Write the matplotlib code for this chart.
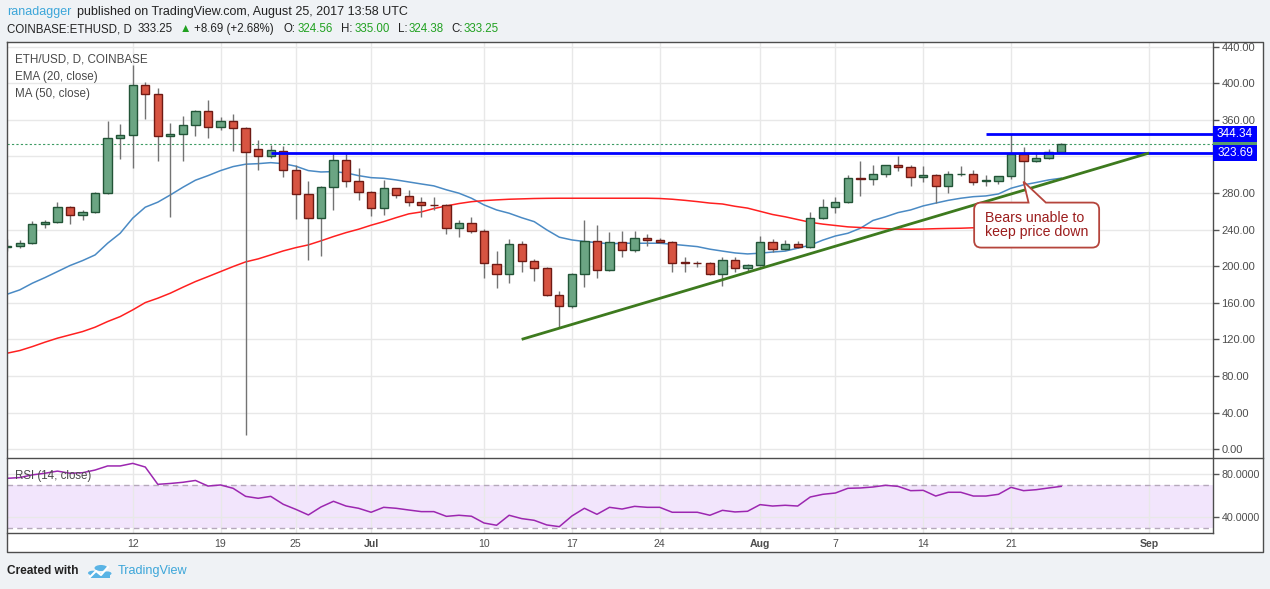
import numpy as np
import pandas as pd
import matplotlib
matplotlib.use("Agg")
import matplotlib.pyplot as plt
import matplotlib.dates as mdates
import matplotlib.transforms as mtransforms
from matplotlib.patches import Rectangle, PathPatch, Circle
from matplotlib.path import Path
from matplotlib.lines import Line2D

plt.rcParams['font.family'] = ['Liberation Sans', 'DejaVu Sans']

# ---- data (ETH/USD daily, Coinbase) ----
dates = pd.date_range('2017-06-02', '2017-08-25', freq='D')

opens = [221, 222, 225, 246, 248, 264.5, 256, 259, 280, 340,
         343, 398, 388, 342, 344, 354, 370, 352, 358.5, 351,
         328, 320, 326, 305, 279, 253, 287, 316, 293, 281,
         263.4, 285, 276.5, 270, 267, 266.7, 241.5, 247, 238.3, 202.2,
         191.3, 224, 205.5, 197.8, 168.3, 156.3, 191.3, 227.3, 195.6, 226.2,
         217.5, 230.6, 228.4, 226.2, 204.5, 203.5, 203.3, 191.3, 206.6, 197.8,
         201.1, 226.2, 218.6, 224, 220.8, 252.5, 264.5, 270, 296, 295,
         301, 310.4, 308.5, 297.3, 299.5, 287.4, 300.5, 300.5, 293, 293.6,
         298.4, 323, 314.8, 318.1, 324.56]
highs = [230, 229, 249.5, 250.3, 270, 266, 261.5, 281, 359, 355.5,
         420, 401, 394.5, 356.6, 364, 371, 382, 363, 366, 352.6,
         338, 333, 331.5, 311, 293, 288, 323.5, 323.5, 307, 282.6,
         294, 285.5, 283.4, 275.4, 275.4, 268, 250.6, 253.6, 240.4, 216.7,
         230, 227.7, 208, 199, 173, 192.3, 250.6, 245, 237.7, 239,
         239, 235.3, 231, 227.3, 210, 206, 205, 210, 210, 202.5,
         232.8, 229.8, 228.7, 228, 259.7, 273.6, 275.4, 300, 315, 310.7,
         311, 320.5, 310.7, 309.3, 300.5, 304.2, 310, 305, 299.5, 299,
         344.34, 330, 324.6, 328.2, 335.0]
lows = [217, 220, 224, 242, 247, 246.6, 251, 258, 279, 317.6,
        307, 361, 315, 254, 315, 342, 340.6, 348.6, 326, 15.6,
        305.6, 318, 297, 252, 207, 211.6, 261, 287, 272, 255,
        256.4, 274.4, 266, 254, 261.5, 235.6, 232.4, 236.7, 187, 176.6,
        182, 194, 184.3, 167, 133.3, 154.8, 177.7, 187.5, 195, 209.8,
        216, 222.5, 225.5, 194, 194, 199, 190, 178.8, 194, 194,
        200, 216, 218, 220, 220, 252, 258.6, 269, 277, 289,
        297.3, 304.5, 288, 291.8, 269, 280.4, 299, 289, 288, 290.3,
        295.7, 292.5, 314, 317, 324.38]
closes = [222.5, 225, 246, 248.4, 264.5, 256, 259, 280, 340, 343,
          398, 388, 342, 344, 354, 370, 352, 358.5, 351, 325,
          320, 327, 305, 279, 253, 287, 316, 293, 281, 263.4,
          285, 277.6, 270, 266.7, 266.4, 241.5, 247, 239, 203.3, 191.3,
          224, 205.5, 197.8, 168.3, 156.3, 191.3, 227.3, 195.6, 226.2, 217.5,
          230.6, 228.4, 226.2, 204, 203.5, 203.2, 191.3, 206.6, 197.8, 201.1,
          226.2, 218.6, 224, 220.8, 252.5, 264.5, 270, 296, 295, 301,
          310.4, 308.2, 297.3, 299.5, 287.4, 300.5, 301.2, 292.5, 294, 298.4,
          323, 314.8, 318.1, 324.6, 333.25]

ema20 = [169.4, 174.1, 181.4, 187.5, 194.1, 200.7, 206.1, 212.3, 225.1, 236.0,
         252.5, 264.5, 270.0, 277.9, 286.3, 294.0, 299.0, 304.5, 308.9, 311.5,
         312.1, 313.2, 312.1, 309.3, 304.5, 303.0, 303.4, 302.0, 299.0, 296.8,
         296.1, 294.3, 292.1, 289.9, 287.8, 283.5, 279.8, 274.3, 267.0, 261.5,
         257.9, 253.0, 248.7, 239.7, 231.7, 228.7, 227.0, 225.8, 224.4, 225.1,
         225.1, 225.1, 225.1, 224.0, 222.7, 221.4, 218.6, 216.5, 214.5, 213.4,
         214.2, 215.5, 216.5, 219.7, 223.0, 228.5, 233.0, 236.0, 241.5, 250.0,
         254.0, 258.6, 261.5, 265.9, 269.0, 272.0, 274.3, 276.0, 276.8, 279.0,
         285.2, 288.9, 291.5, 294.3, 296.2]
ma50 = [104.9, 107.8, 112.1, 116.9, 121.3, 124.9, 128.5, 133.3, 139.5, 144.9,
        152.2, 160.2, 165.0, 170.5, 177.0, 183.2, 188.6, 194.1, 199.6, 204.7,
        208.0, 212.3, 216.7, 220.3, 223.3, 227.7, 232.4, 236.7, 240.4, 244.8,
        248.7, 253.1, 257.2, 259.3, 263.0, 265.9, 268.5, 270.5, 271.7, 272.5,
        273.2, 273.6, 274.0, 274.2, 274.3, 274.3, 274.3, 274.3, 274.3, 274.3,
        274.3, 274.3, 274.0, 273.2, 272.0, 270.6, 269.0, 268.0, 265.5, 263.5,
        260.0, 256.5, 254.0, 251.0, 248.0, 246.0, 244.5, 243.0, 242.3, 241.5,
        241.0, 240.6, 240.4, 240.6, 241.0, 241.3, 241.5, 242.0, 242.6, 243.2,
        244.0, 244.5, 245.0, 245.5, 246.0]
rsi14 = [76.3, 77.0, 79.5, 81.0, 83.0, 81.0, 81.5, 84.0, 87.8, 87.8,
         90.2, 86.8, 70.7, 71.5, 72.6, 74.3, 69.1, 70.1, 67.0, 59.5,
         57.7, 59.5, 52.1, 47.4, 42.2, 49.6, 54.9, 50.5, 48.4, 44.7,
         49.3, 48.4, 46.8, 45.3, 45.3, 40.9, 41.9, 41.0, 34.7, 32.6,
         41.9, 38.8, 37.2, 32.9, 31.3, 41.2, 48.4, 42.8, 49.3, 47.7,
         50.2, 49.3, 49.3, 44.7, 44.7, 44.7, 41.9, 46.5, 45.0, 45.6,
         51.8, 50.5, 51.2, 50.5, 58.9, 61.4, 62.6, 67.0, 67.3, 68.2,
         69.8, 68.8, 64.8, 65.1, 59.8, 63.3, 63.3, 59.8, 59.8, 61.4,
         67.9, 64.8, 65.7, 67.3, 68.8]

# drawn levels and trend line
levels = [323.69, 344.34]
level_start = ['2017-06-23', '2017-08-19']
trend_dates = ['2017-07-13', '2017-09-01']
trend_prices = [120.0, 323.69]
note_date = '2017-08-22'
note_price = 292.5
note_text = 'Bears unable to\nkeep price down'

tick_dates = ['2017-06-12', '2017-06-19', '2017-06-25', '2017-07-01', '2017-07-10', '2017-07-17',
              '2017-07-24', '2017-08-01', '2017-08-07', '2017-08-14', '2017-08-21', '2017-09-01']
tick_labels = ['12', '19', '25', 'Jul', '10', '17', '24', 'Aug', '7', '14', '21', 'Sep']
price_ticks = list(range(0, 441, 40))

# ---- figure ----
W, H = 1270, 589
fig = plt.figure(figsize=(W / 100, H / 100), dpi=100, facecolor='#eff2f5')


def fx(px):
    return px / W


def fy(py):
    return 1 - py / H


def fline(xs, ys, color='#4d4d4d', lw=1.0):
    fig.add_artist(Line2D([fx(v) for v in xs], [fy(v) for v in ys], color=color, lw=lw,
                          transform=fig.transFigure, zorder=5))


# white chart frame
fig.add_artist(Rectangle((fx(7), fy(552)), fx(1263) - fx(7), fy(42) - fy(552),
                         transform=fig.transFigure, facecolor='white', edgecolor='none', zorder=-1))

ax = fig.add_axes([fx(7), fy(458), fx(1213) - fx(7), fy(42) - fy(458)])
axr = fig.add_axes([fx(7), fy(533), fx(1213) - fx(7), fy(458) - fy(533)])

x = mdates.date2num(dates)
xmin = x[0] - 0.02
xmax = x[0] + 96.1
ticks = mdates.date2num(pd.to_datetime(tick_dates))

for a in (ax, axr):
    a.set_xlim(xmin, xmax)
    a.set_facecolor('none')
    for s in a.spines.values():
        s.set_visible(False)
    a.set_xticks(ticks)
    a.set_axisbelow(True)
    a.grid(True, color='#e8e8e8', lw=1)
    a.yaxis.tick_right()
    a.tick_params(axis='y', length=4, width=1, color='#555555', labelcolor='#4d4d4d',
                  labelsize=8, pad=2)

ax.set_ylim(-9.7, 445.1)
ax.set_yticks(price_ticks)
# the 320 label is hidden behind the level tag on the axis
ax.set_yticklabels(['' if v == 320 else f'{v:.2f}' for v in price_ticks])
ax.tick_params(axis='x', length=0, labelbottom=False)

# candles
UP, UPE = '#6ba583', '#225437'
DN, DNE = '#d75442', '#6f1a14'
bw = 0.66
for xi, o, h, l, c in zip(x, opens, highs, lows, closes):
    up = c >= o
    ax.vlines(xi, l, h, color='#737373', lw=1, zorder=3)
    lo, hi = min(o, c), max(o, c)
    ax.add_patch(Rectangle((xi - bw / 2, lo), bw, max(hi - lo, 0.3),
                           facecolor=UP if up else DN, edgecolor=UPE if up else DNE,
                           lw=1, zorder=4))

ax.plot(x, ema20, color='#4a8ac4', lw=1.1, zorder=2)
ax.plot(x, ma50, color='#ff2020', lw=1.1, zorder=2)

# last price line
ax.axhline(closes[-1], color='#3d9b63', lw=0.8, ls=(0, (2, 2)), zorder=2)

# horizontal levels and trend line
for lv, st in zip(levels, level_start):
    ax.hlines(lv, mdates.date2num(pd.Timestamp(st)), xmax, color='#0000ff', lw=2, zorder=6)
ax.plot(mdates.date2num(pd.to_datetime(trend_dates)), trend_prices, color='#3d7a1e',
        lw=2, zorder=6, solid_capstyle='butt')

# legend text
for i, s in enumerate(['ETH/USD, D, COINBASE', 'EMA (20, close)', 'MA (50, close)']):
    fig.text(fx(15), fy(60 + 17 * i), s, fontsize=8.4, color='#4a4a4a', va='center', zorder=7)

# callout (geometry in pixels, relative to the wick it points at)
nx = mdates.date2num(pd.Timestamp(note_date))
Lb, Rb, Tb, Bb, r = -49.4, 75.6, -21.0, -66.0, 7.0
p0, p1 = 5.0, 22.3
verts = [(0, 0), (p1, Tb), (Rb - r, Tb), (Rb, Tb), (Rb, Tb - r), (Rb, Bb + r), (Rb, Bb),
         (Rb - r, Bb), (Lb + r, Bb), (Lb, Bb), (Lb, Bb + r), (Lb, Tb - r), (Lb, Tb),
         (Lb + r, Tb), (p0, Tb), (0, 0)]
codes = [Path.MOVETO, Path.LINETO, Path.LINETO, Path.CURVE3, Path.CURVE3, Path.LINETO,
         Path.CURVE3, Path.CURVE3, Path.LINETO, Path.CURVE3, Path.CURVE3, Path.LINETO,
         Path.CURVE3, Path.CURVE3, Path.LINETO, Path.CLOSEPOLY]
anchor = mtransforms.ScaledTranslation(nx, note_price, ax.transData)
ax.add_patch(PathPatch(Path(verts, codes), transform=anchor, facecolor='white',
                       edgecolor='#b5453c', lw=1.3, zorder=10, clip_on=False))
txt_tr = mtransforms.Affine2D().translate(-38.5, -43.5) + anchor
ax.text(0, 0, note_text, transform=txt_tr, fontsize=10.2, color='#9b1c1c', ha='left',
        va='center', linespacing=0.95, zorder=11)

# RSI pane
axr.set_ylim(25.4, 95.2)
axr.axhspan(30, 70, color='#9b2fee', alpha=0.12, lw=0, zorder=0)
for lv in (70, 30):
    axr.axhline(lv, color='#b5a8bb', lw=1, ls=(0, (4, 3)), zorder=1)
axr.plot(x, rsi14, color='#9c27b0', lw=1.1, zorder=3)
axr.set_yticks([40, 80])
axr.set_yticklabels(['40.0000', '80.0000'], fontsize=7.7)
axr.set_xticklabels(tick_labels)
axr.tick_params(axis='x', length=0, pad=4.5, labelsize=7.6, labelcolor='#4d4d4d')
for lab in axr.get_xticklabels():
    if lab.get_text() in ('Jul', 'Aug', 'Sep'):
        lab.set_fontweight('bold')
fig.text(fx(15), fy(476), 'RSI (14, close)', fontsize=8.3, color='#4a4a4a', va='center', zorder=7)

# price tags on the axis
fig.canvas.draw()


def tag(price, color, label, z):
    yd = ax.transData.transform((x[0], price))[1] / H
    fig.add_artist(Rectangle((fx(1213), yd - 7.7 / H), fx(44), 15.4 / H, transform=fig.transFigure,
                             facecolor=color, edgecolor='none', zorder=z))
    if label:
        fig.text(fx(1235), yd, label, color='white', fontsize=8.5, ha='center', va='center',
                 zorder=z + 0.5)


# last-price tag sits behind the two level tags
tag(closes[-1], '#5a9c6e', None, 8)
for i, lv in enumerate(levels):
    tag(lv, '#0000ff', f'{lv:.2f}', 9 + i)

# frame lines
fline([7, 1263, 1263, 7, 7], [42, 42, 552, 552, 42])
fline([1213, 1213], [42, 533])
fline([7, 1263], [458, 458])
fline([7, 1213], [533, 533])

# header
hdr = '#222222'
green = '#21a121'
fig.text(fx(7), fy(12), 'ranadagger', color='#3ca6d9', fontsize=9, va='center')
fig.text(fx(77), fy(12), 'published on TradingView.com, August 25, 2017 13:58 UTC', color=hdr,
         fontsize=9, va='center')
parts = [(7, 'COINBASE:ETHUSD, D', hdr), (138, f'{closes[-1]:.2f}', hdr), (180, '▲', green),
         (194, '+8.69 (+2.68%)', hdr), (283, 'O:', hdr), (298, f'{opens[-1]:.2f}', green),
         (341, 'H:', hdr), (355, f'{highs[-1]:.2f}', green), (398, 'L:', hdr),
         (409, f'{lows[-1]:.2f}', green), (451, 'C:', hdr), (464, f'{closes[-1]:.2f}', green)]
for px, s, col in parts:
    fig.text(fx(px), fy(29), s, color=col, fontsize=8.3, va='center')

# footer
fig.text(fx(7), fy(571), 'Created with', color='#222222', fontsize=8.6, fontweight='bold',
         va='center')
logo_c = '#5ab4e5'
for cx, cy, rr in [(93, 573, 5), (101, 568, 6.5), (107, 573.5, 4.5)]:
    fig.add_artist(Circle((fx(cx), fy(cy)), rr / W, transform=fig.transFigure, facecolor=logo_c,
                          edgecolor='none'))
fig.add_artist(Rectangle((fx(90), fy(578)), fx(20), 5 / H, transform=fig.transFigure,
                         facecolor=logo_c, edgecolor='none'))
fig.add_artist(Line2D([fx(90), fx(96), fx(101), fx(108)], [fy(577), fy(571), fy(575), fy(567)],
                      color='white', lw=1.5, transform=fig.transFigure))
fig.text(fx(118), fy(571), 'TradingView', color='#3ca6d9', fontsize=9.1, va='center')

fig.savefig('out.png', dpi=100, facecolor=fig.get_facecolor())
